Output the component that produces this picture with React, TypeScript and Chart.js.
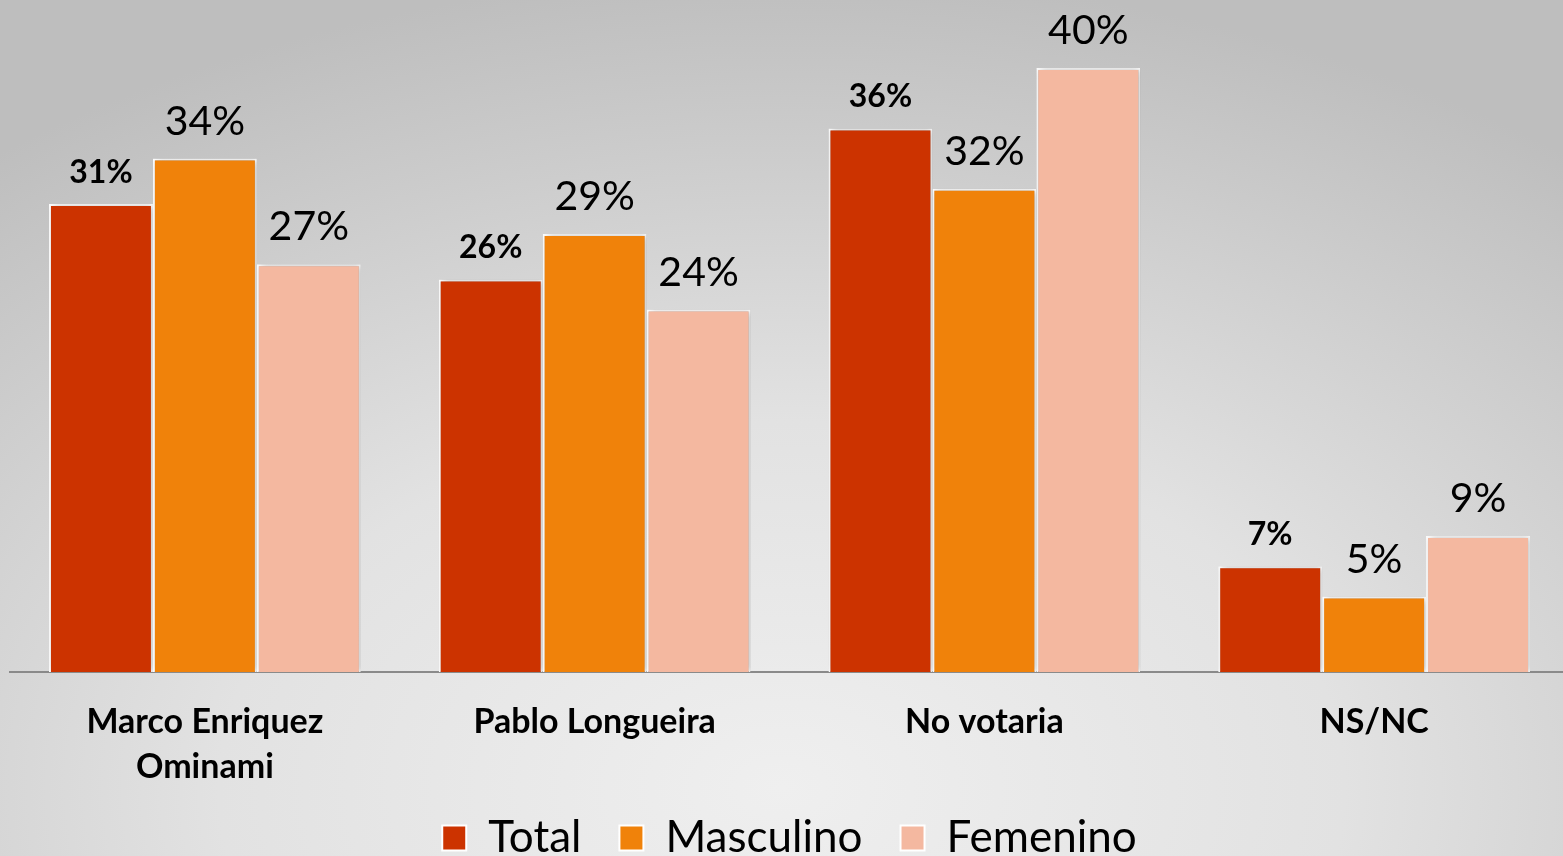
import React, { useEffect, useRef } from "react";
import { Chart, registerables } from "chart.js";

Chart.register(...registerables);

const categories: (string | string[])[] = [
  ["Marco Enriquez", "Ominami"],
  "Pablo Longueira",
  "No votaria",
  "NS/NC",
];
const seriesNames = ["Total", "Masculino", "Femenino"];
const totalValues = [31, 26, 36, 7];
const masculinoValues = [34, 29, 32, 5];
const femeninoValues = [27, 24, 40, 9];
const seriesColors = ["#CC3300", "#F0820A", "#F4B8A0"];

const FONT = "Lato, 'Open Sans', sans-serif";

const shadowPlugin = {
  id: "barShadow",
  beforeDatasetsDraw(chart: any) {
    const ctx = chart.ctx;
    ctx.save();
    ctx.shadowColor = "rgba(0,0,0,0.28)";
    ctx.shadowBlur = 7;
    ctx.shadowOffsetX = 2;
    ctx.shadowOffsetY = 0;
  },
  afterDatasetsDraw(chart: any) {
    chart.ctx.restore();
  },
};

const labelPlugin = {
  id: "valueLabels",
  afterDatasetsDraw(chart: any) {
    const ctx = chart.ctx;
    ctx.save();
    ctx.shadowColor = "transparent";
    ctx.fillStyle = "#000";
    ctx.textAlign = "center";
    ctx.textBaseline = "alphabetic";
    chart.data.datasets.forEach((ds: any, i: number) => {
      const meta = chart.getDatasetMeta(i);
      const bold = i === 0;
      ctx.font = bold ? `bold 32px ${FONT}` : `41px ${FONT}`;
      const gap = bold ? 21 : 24;
      meta.data.forEach((el: any, j: number) => {
        ctx.fillText(`${ds.data[j]}%`, el.x, el.y - gap);
      });
    });
    ctx.restore();
  },
};

export default function App() {
  const ref = useRef<HTMLCanvasElement>(null);
  useEffect(() => {
    if (!ref.current) return;
    const values = [totalValues, masculinoValues, femeninoValues];
    const chart = new Chart(ref.current, {
      type: "bar",
      data: {
        labels: categories,
        datasets: seriesNames.map((name, i) => ({
          label: name,
          data: values[i],
          backgroundColor: seriesColors[i],
          borderColor: "#FFFFFF",
          borderWidth: 2,
          categoryPercentage: 0.8,
          barPercentage: 1.0,
        })),
      },
      options: {
        animation: false,
        responsive: false,
        devicePixelRatio: 1,
        layout: { padding: { top: 68, left: 10, right: 11, bottom: 30 } },
        plugins: {
          tooltip: { enabled: false },
          legend: {
            position: "bottom",
            labels: {
              boxWidth: 24,
              boxHeight: 25,
              padding: 38,
              color: "#000",
              font: { family: FONT, size: 44 },
            },
          },
        },
        scales: {
          x: {
            grid: { display: false },
            border: { display: true, color: "#8a8a8a", width: 2 },
            ticks: {
              color: "#000",
              padding: 19,
              maxRotation: 0,
              autoSkip: false,
              font: { family: FONT, size: 34, weight: "bold", lineHeight: 1.33 },
            },
            afterFit: (scale: any) => {
              scale.height = 106;
            },
          },
          y: {
            display: false,
            min: 0,
            max: 40,
          },
        },
      },
      plugins: [shadowPlugin, labelPlugin],
    });
    return () => chart.destroy();
  }, []);
  return (
    <div
      style={{
        position: "fixed",
        left: 0,
        top: 0,
        width: 1563,
        height: 856,
        overflow: "hidden",
        background:
          "radial-gradient(ellipse 80% 95% at 50% 92%, #efefef 0%, #e2e2e2 45%, #cbcbcb 80%, #bebebe 100%)",
      }}
    >
      <canvas ref={ref} width={1580} height={900} style={{ display: "block" }} />
    </div>
  );
}
